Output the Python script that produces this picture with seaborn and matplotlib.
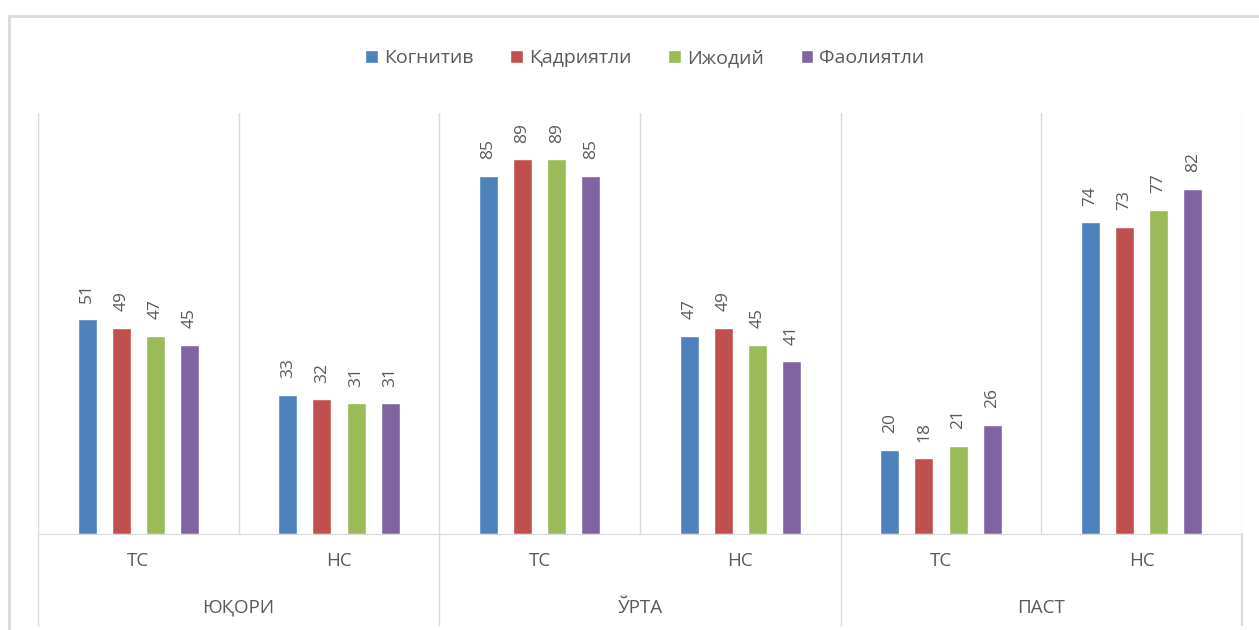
import pandas as pd
import matplotlib.pyplot as plt
import seaborn as sns
from matplotlib.patches import Rectangle

# Chart data
groups = ['ЮҚОРИ', 'ЎРТА', 'ПАСТ']
subgroups = ['ТС', 'НС']
series = ['Когнитив', 'Қадриятли', 'Ижодий', 'Фаолиятли']
kognitiv = [51, 33, 85, 47, 20, 74]
qadriyatli = [49, 32, 89, 49, 18, 73]
ijodiy = [47, 31, 89, 45, 21, 77]
faoliyatli = [45, 31, 85, 41, 26, 82]
colors = ['#4F81BD', '#C0504D', '#9BBB59', '#8064A2']

# Long-form table for seaborn
cats = [f'{g} {s}' for g in groups for s in subgroups]
rows = []
for name, vals in zip(series, [kognitiv, qadriyatli, ijodiy, faoliyatli]):
    for c, v in zip(cats, vals):
        rows.append({'cat': c, 'series': name, 'value': v})
df = pd.DataFrame(rows)

sns.set_style('white')
plt.rcParams['font.family'] = ['Open Sans', 'DejaVu Sans']
text_color = '#595959'
grid_color = '#d9d9d9'

fig = plt.figure(figsize=(12.59, 6.30), dpi=100)
ax = fig.add_axes([38 / 1259, 96 / 630, 1204 / 1259, 421 / 630])

# outer chart border
fig.patches.append(Rectangle((9 / 1259, -0.1), 1.1, (630 - 16) / 630 + 0.1,
                             transform=fig.transFigure, fill=False,
                             edgecolor=grid_color, lw=2))

sns.barplot(data=df, x='cat', y='value', hue='series', order=cats,
            hue_order=series, palette=colors, width=0.68, gap=0.44,
            saturation=1, ax=ax)

for cont in ax.containers:
    ax.bar_label(cont, rotation=90, padding=12, color=text_color, fontsize=12.5)

ax.set_ylim(0, 100)
ax.set_xlim(-0.5, len(cats) - 0.5)
ax.set_yticks([])
ax.set_xlabel('')
ax.set_ylabel('')
for side in ['top', 'right', 'left']:
    ax.spines[side].set_visible(False)
ax.spines['bottom'].set_color(grid_color)

# vertical gridlines between categories
for i in range(len(cats) + 1):
    ax.axvline(i - 0.5, color=grid_color, lw=1, zorder=0)

# tick labels and group labels
ax.set_xticks(range(len(cats)))
ax.set_xticklabels(subgroups * len(groups), color=text_color, fontsize=13.5)
ax.tick_params(axis='x', length=0, pad=13)
trans = ax.get_xaxis_transform()
for j, g in enumerate(groups):
    ax.text(2 * j + 0.5, -0.175, g, transform=trans, ha='center', va='center',
            color=text_color, fontsize=13.5)
    ax.plot([2 * j - 0.5, 2 * j - 0.5], [0, -0.216], transform=trans,
            color=grid_color, lw=1, clip_on=False)
ax.plot([len(cats) - 0.5] * 2, [0, -0.216], transform=trans,
        color=grid_color, lw=1.5, clip_on=False)

sns.move_legend(ax, 'center', bbox_to_anchor=(0.504, 1.13), ncol=4,
                frameon=False, title=None, fontsize=14, handlelength=0.65,
                handleheight=0.65, handletextpad=0.3, columnspacing=1.9,
                labelcolor=text_color)

fig.savefig('out.png', dpi=100, facecolor='white')
